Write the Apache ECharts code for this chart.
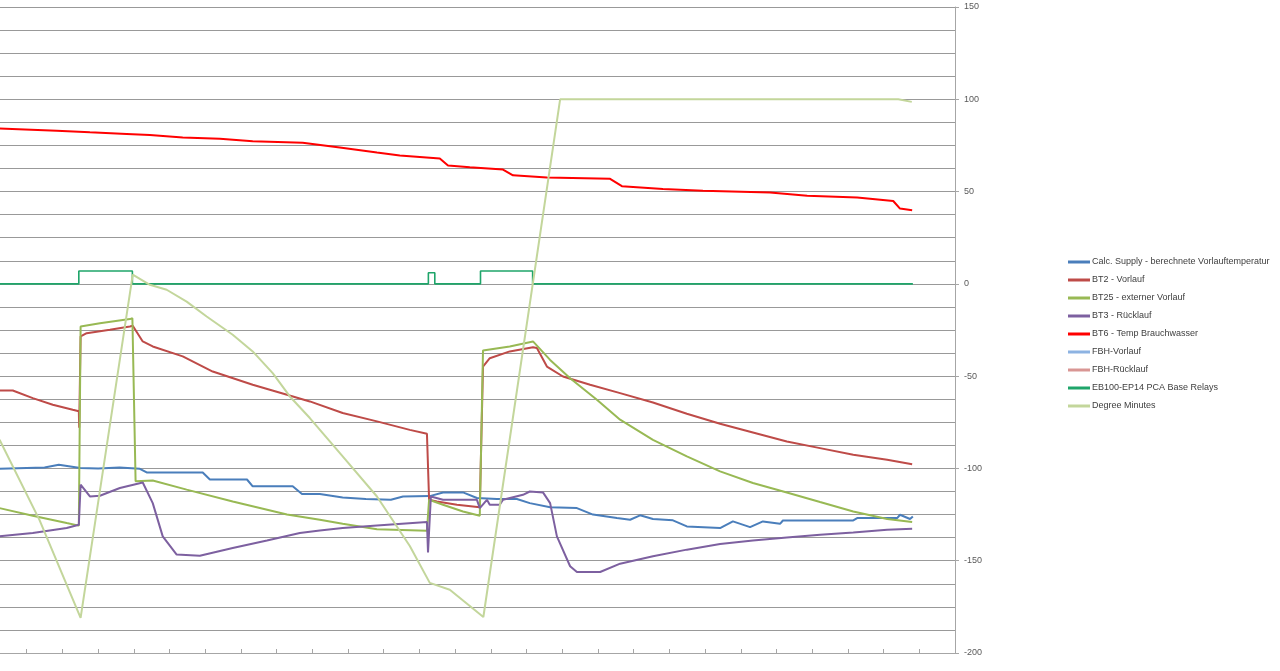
<!DOCTYPE html>
<html>
<head>
<meta charset="utf-8">
<script src="https://cdn.jsdelivr.net/npm/echarts@6/dist/echarts.min.js"></script>
<style>html,body{margin:0;padding:0;background:#fff;overflow:hidden;}#c{position:absolute;left:-9px;top:0;width:1289px;height:671px;}</style>
</head>
<body>
<div id="c"></div>
<script>
const seriesNames = [
  'Calc. Supply - berechnete Vorlauftemperatur',
  'BT2 - Vorlauf',
  'BT25 - externer Vorlauf',
  'BT3 - Rücklauf',
  'BT6 - Temp Brauchwasser',
  'FBH-Vorlauf',
  'FBH-Rücklauf',
  'EB100-EP14 PCA Base Relays',
  'Degree Minutes'
];
const yTickLabels = [-200, -150, -100, -50, 0, 50, 100, 150];

const calcSupply = [[2.4,-100.2],[15,-99.5],[19,-98],[25,-99.8],[30,-100],[36,-99.5],[41.7,-100.2],[43.6,-102.2],[59.3,-102.2],[61.3,-106],[71.7,-106],[73.3,-109.7],[84.5,-109.7],[87.1,-113.9],[92.1,-113.9],[98.5,-115.7],[105,-116.5],[112,-117],[115.4,-115.2],[122.9,-115],[126.6,-113],[132.2,-113],[136.1,-116],[141.7,-116.6],[147.3,-116.6],[150.9,-118.8],[156.6,-121],[164.1,-121.5],[168.6,-125],[175.3,-126.9],[179,-127.8],[181.8,-125.4],[185.4,-127.4],[191,-128.1],[194.9,-131.4],[204.2,-132.3],[207.8,-128.7],[212.6,-131.8],[216.2,-128.7],[221,-130],[221.8,-128.2],[241.5,-128.2],[242.6,-126.9],[253.8,-126.9],[254.6,-125.1],[257.4,-127.4],[258.2,-126]];
const bt2 = [[2.4,-57.8],[6.1,-57.8],[11.7,-61.9],[17.3,-65.5],[22.9,-68.2],[24.6,-69],[24.7,-78],[25.1,-28.5],[26.8,-26.7],[33.3,-24.9],[38.9,-23.1],[39.7,-22.7],[42.5,-31.2],[45.3,-33.9],[53.7,-39.3],[62.1,-47.5],[73.3,-54.7],[82.9,-60.1],[89.3,-63.7],[98.5,-70],[108.1,-74.5],[117.3,-79.1],[122.1,-81.2],[122.7,-117],[124.9,-117.9],[130.5,-119.7],[136.9,-121],[137.8,-44.8],[139.7,-40.3],[145.3,-36.6],[151.8,-34.3],[152.9,-34.8],[155.7,-44.8],[160.2,-50.2],[167.8,-54.7],[176.2,-59.2],[185.4,-64.3],[194.9,-70.4],[204.2,-75.8],[213.4,-80.5],[222.9,-85.4],[232.2,-89],[241.5,-92.6],[251,-95.3],[258,-97.7]];
const bt25 = [[2.4,-121.5],[11.7,-125.6],[21.2,-129.6],[24.6,-131],[25.1,-23.1],[30.5,-21.3],[38.9,-19.1],[39.6,-18.6],[40.5,-107],[45.3,-106.5],[54.8,-111.5],[67.7,-117.9],[82.9,-125],[92.1,-127.8],[98.5,-130],[108.1,-132.9],[122.1,-133.8],[122.7,-117],[126.6,-119.7],[132.2,-123.3],[136.9,-125.6],[137.8,-36.1],[145.3,-33.9],[151.8,-31.2],[156.6,-41.2],[162.2,-51.1],[169.7,-62.8],[176.2,-73.6],[185.4,-84.5],[194.9,-93.5],[204.2,-101.6],[213.4,-107.9],[222.9,-113],[232.2,-118.2],[241.5,-123.3],[251,-127.4],[258,-129]];
const bt3 = [[2.4,-136.8],[11.7,-135],[21.2,-132.3],[24.6,-130.5],[25.1,-108.8],[27.7,-115.2],[30.5,-114.8],[36.1,-110.6],[42.5,-107.6],[45.3,-118.8],[48.1,-136.8],[52,-146.7],[58.5,-147.3],[67.7,-143.1],[77.3,-139],[86.5,-135],[92.1,-133.6],[98.5,-132.3],[108.1,-130.9],[122.1,-129],[122.4,-145.5],[123.2,-115.2],[126.6,-117],[136.1,-117],[136.9,-121.5],[138.9,-117],[139.7,-119.7],[142.5,-119.7],[143.4,-117],[149,-114.3],[150.9,-112.5],[154.6,-113],[156.6,-118.8],[158.5,-136.8],[162.2,-153],[164.1,-156.1],[170.6,-156.1],[176.2,-151.6],[185.4,-147.6],[194.9,-144],[204.2,-141],[213.4,-139],[222.9,-137.4],[232.2,-135.9],[241.5,-134.7],[251,-133.2],[258,-132.7]];
const bt6 = [[2.4,84.2],[18.4,83],[27.7,82.1],[38,81.2],[44.5,80.6],[53.7,79.3],[64.1,78.6],[73.3,77.3],[87.3,76.4],[97.7,73.9],[108.1,71.2],[114.5,69.6],[125.7,67.9],[128,64.1],[134.1,63.2],[143.4,61.9],[146.2,58.8],[155.7,57.6],[173.4,56.9],[176.7,52.9],[188.2,51.4],[199.4,50.5],[218.2,49.5],[228.6,47.8],[242.6,46.8],[252.7,44.9],[254.6,40.8],[258,39.9]];
const fbhVorlauf = [];
const fbhRuecklauf = [];
const relays = [[2.4,0],[24.6,0],[24.6,7],[39.6,7],[39.6,0],[122.5,0],[122.5,6],[124.3,6],[124.3,0],[137.1,0],[137.1,7],[151.7,7],[151.7,0],[258.2,0]];
const degreeMinutes = [[2.4,-84.5],[13.6,-128],[25.1,-181],[39.7,5],[44.5,-0.5],[49.2,-3.2],[54.8,-9.6],[60.4,-17.7],[67.7,-27.6],[73.3,-36.6],[78.9,-48.4],[83.7,-61],[89.3,-72.7],[98.5,-93.5],[108.1,-115.2],[117.3,-142],[122.9,-162],[128.5,-165.7],[137.9,-180.5],[159.4,100],[254.1,100],[257.9,98.6]];

const seriesData = [calcSupply, bt2, bt25, bt3, bt6, fbhVorlauf, fbhRuecklauf, relays, degreeMinutes];
const colors = ['#4A7EBB','#BE4B48','#98B954','#7D60A0','#FF0000','#8DB3E2','#D99694','#1FA56A','#C3D69B'];
const widths = [2,2,2,2,2,2,2,1.6,2];

const chart = echarts.init(document.getElementById('c'), null, {renderer:'canvas'});
chart.setOption({
  animation: false,
  backgroundColor: '#fff',
  grid: {left: 0, right: 325, top: 7, bottom: 18, containLabel: false},
  legend: {
    orient: 'vertical', left: 1072, top: 252,
    itemWidth: 22, itemHeight: 3, itemGap: 8, icon: 'rect',
    textStyle: {fontFamily: 'Liberation Sans', fontSize: 9, color: '#404040', lineHeight: 10, padding: [0,0,0,-3]},
    data: seriesNames
  },
  xAxis: {
    type: 'value', min: 0, max: 270, interval: 10,
    axisLine: {show: true, onZero: false, lineStyle: {color: '#A6A6A6', width: 1}},
    axisTick: {show: true, inside: true, length: 4, lineStyle: {color: '#A6A6A6'}},
    axisLabel: {show: false},
    splitLine: {show: false}
  },
  yAxis: [{
    type: 'value', position: 'right', min: -200, max: 150, interval: 50,
    axisLine: {show: true, onZero: false, lineStyle: {color: '#A6A6A6'}},
    axisTick: {show: true, length: 4, lineStyle: {color: '#A6A6A6'}},
    axisLabel: {margin: 9, fontFamily: 'Liberation Sans', fontSize: 9, color: '#595959',
      formatter: v => yTickLabels.includes(v) ? String(v) : ''},
    splitLine: {show: false}
  },{
    type: 'value', position: 'right', min: -200, max: 150, interval: 12.5,
    axisLine: {show: false, onZero: false}, axisTick: {show: false}, axisLabel: {show: false},
    splitLine: {show: true, lineStyle: {color: '#999999', width: 1}}
  }],
  series: seriesNames.map((n, i) => ({
    name: n, type: 'line', yAxisIndex: 0, data: seriesData[i],
    showSymbol: false, symbol: 'none',
    lineStyle: {color: colors[i], width: widths[i]},
    itemStyle: {color: colors[i]}
  }))
});
</script>
</body>
</html>
